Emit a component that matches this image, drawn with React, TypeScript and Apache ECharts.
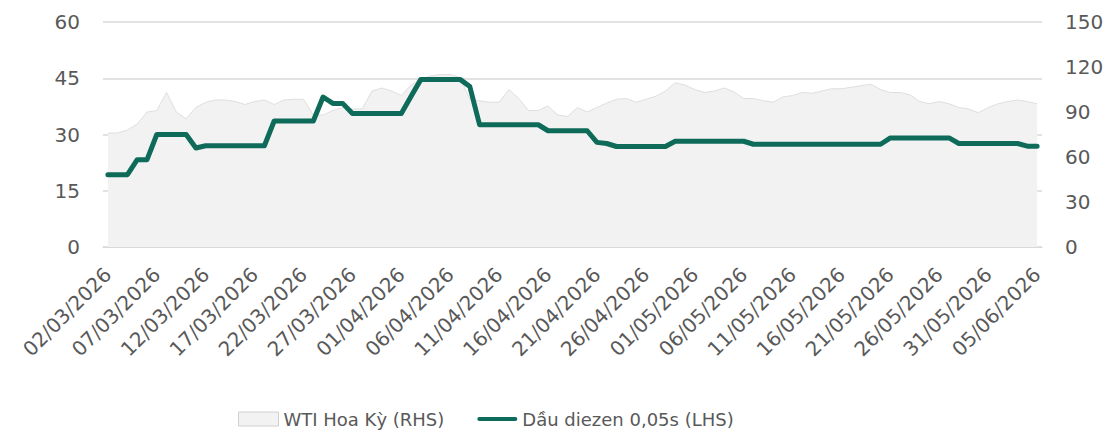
import React, { useEffect, useRef } from "react";
import * as echarts from "echarts";

const dates: string[] = [
  "02/03/2026", "03/03/2026", "04/03/2026", "05/03/2026", "06/03/2026", "07/03/2026", "08/03/2026", "09/03/2026",
  "10/03/2026", "11/03/2026", "12/03/2026", "13/03/2026", "14/03/2026", "15/03/2026", "16/03/2026", "17/03/2026",
  "18/03/2026", "19/03/2026", "20/03/2026", "21/03/2026", "22/03/2026", "23/03/2026", "24/03/2026", "25/03/2026",
  "26/03/2026", "27/03/2026", "28/03/2026", "29/03/2026", "30/03/2026", "31/03/2026", "01/04/2026", "02/04/2026",
  "03/04/2026", "04/04/2026", "05/04/2026", "06/04/2026", "07/04/2026", "08/04/2026", "09/04/2026", "10/04/2026",
  "11/04/2026", "12/04/2026", "13/04/2026", "14/04/2026", "15/04/2026", "16/04/2026", "17/04/2026", "18/04/2026",
  "19/04/2026", "20/04/2026", "21/04/2026", "22/04/2026", "23/04/2026", "24/04/2026", "25/04/2026", "26/04/2026",
  "27/04/2026", "28/04/2026", "29/04/2026", "30/04/2026", "01/05/2026", "02/05/2026", "03/05/2026", "04/05/2026",
  "05/05/2026", "06/05/2026", "07/05/2026", "08/05/2026", "09/05/2026", "10/05/2026", "11/05/2026", "12/05/2026",
  "13/05/2026", "14/05/2026", "15/05/2026", "16/05/2026", "17/05/2026", "18/05/2026", "19/05/2026", "20/05/2026",
  "21/05/2026", "22/05/2026", "23/05/2026", "24/05/2026", "25/05/2026", "26/05/2026", "27/05/2026", "28/05/2026",
  "29/05/2026", "30/05/2026", "31/05/2026", "01/06/2026", "02/06/2026", "03/06/2026", "04/06/2026", "05/06/2026",
];

// WTI Hoa Kỳ (RHS)
const wti: number[] = [
  76, 76, 78, 82, 90, 91, 103, 90, 85.5, 93,
  96.5, 98, 98, 97, 95, 97, 98, 95, 98, 98.5,
  98.5, 88, 88, 91, 93, 92, 92, 104, 106, 104,
  101, 108, 112, 114, 115, 115, 113, 98.5, 97.5, 96.5,
  96.5, 105, 99, 91, 91, 94, 88, 87, 93, 90,
  93, 96, 98.5, 99, 96.5, 98.5, 100.5, 104, 109.5, 108,
  105, 103, 104, 106, 103.5, 99, 99, 97.5, 96.5, 100,
  101, 103, 102.5, 104, 105.5, 105.5, 106.5, 107.5, 108.5, 105,
  103, 103, 101.5, 97, 95.5, 97, 95.5, 93, 92, 89.5,
  93, 95.5, 97, 98, 97, 95.5,
];

// Dầu diezen 0,05s (LHS)
const diesel: number[] = [
  19.3, 19.3, 19.3, 23.3, 23.3, 30, 30, 30, 30, 26.4,
  27, 27, 27, 27, 27, 27, 27, 33.6, 33.6, 33.6,
  33.6, 33.6, 40, 38.3, 38.3, 35.6, 35.6, 35.6, 35.6, 35.6,
  35.6, 40.2, 44.7, 44.7, 44.7, 44.7, 44.7, 42.8, 32.6, 32.6,
  32.6, 32.6, 32.6, 32.6, 32.6, 31, 31, 31, 31, 31,
  27.9, 27.6, 26.8, 26.8, 26.8, 26.8, 26.8, 26.8, 28.2, 28.2,
  28.2, 28.2, 28.2, 28.2, 28.2, 28.2, 27.4, 27.4, 27.4, 27.4,
  27.4, 27.4, 27.4, 27.4, 27.4, 27.4, 27.4, 27.4, 27.4, 27.4,
  29.1, 29.1, 29.1, 29.1, 29.1, 29.1, 29.1, 27.6, 27.6, 27.6,
  27.6, 27.6, 27.6, 27.6, 26.9, 26.9,
];

const FONT = "DejaVu Sans";
const TEXT = "#595959";
const GREEN = "#0e6b5a";

export default function App() {
  const ref = useRef<HTMLDivElement>(null);

  useEffect(() => {
    document.body.style.margin = "0";
    if (!ref.current) return;
    const chart = echarts.init(ref.current, null, { renderer: "svg" });
    chart.setOption({
      animation: false,
      grid: { left: 103, right: 65, top: 22, bottom: 184 },
      legend: {
        left: 233,
        top: 405,
        itemWidth: 40,
        itemHeight: 14,
        itemGap: 33,
        symbolKeepAspect: true,
        textStyle: { fontSize: 18, color: TEXT, fontFamily: FONT },
        data: [
          {
            name: "WTI Hoa Kỳ (RHS)",
            icon: "rect",
            itemStyle: { color: "#f2f2f2", borderColor: "#d0d0d0", borderWidth: 1 },
          },
          {
            name: "Dầu diezen 0,05s (LHS)",
            icon: "path://M2,0H38A2,2,0,0,1,38,4H2A2,2,0,0,1,2,0Z",
            itemStyle: { color: GREEN, borderWidth: 0 },
          },
        ],
      },
      xAxis: {
        type: "category",
        data: dates,
        boundaryGap: true,
        axisLine: { show: true, lineStyle: { color: "#d9d9d9", width: 1 } },
        axisTick: { show: false },
        splitLine: { show: false },
        axisLabel: {
          interval: 4,
          rotate: 45,
          margin: 24,
          fontSize: 20,
          color: TEXT,
          fontFamily: FONT,
        },
      },
      yAxis: [
        {
          type: "value",
          position: "left",
          min: 0,
          max: 60,
          interval: 15,
          axisLine: { show: false },
          axisTick: { show: false },
          splitLine: { show: true, lineStyle: { color: "#d9d9d9", width: 1.5 } },
          axisLabel: { margin: 23, fontSize: 20, color: TEXT, fontFamily: FONT },
        },
        {
          type: "value",
          position: "right",
          min: 0,
          max: 150,
          interval: 30,
          axisLine: { show: false },
          axisTick: { show: false },
          splitLine: { show: false },
          axisLabel: { margin: 23, fontSize: 20, color: TEXT, fontFamily: FONT },
        },
      ],
      series: [
        {
          name: "WTI Hoa Kỳ (RHS)",
          type: "line",
          yAxisIndex: 1,
          data: wti,
          symbol: "none",
          z: 2,
          lineStyle: { color: "#dedede", width: 1 },
          itemStyle: { color: "#f2f2f2" },
          areaStyle: { color: "#f2f2f2", opacity: 1 },
        },
        {
          name: "Dầu diezen 0,05s (LHS)",
          type: "line",
          yAxisIndex: 0,
          data: diesel,
          symbol: "none",
          showSymbol: false,
          z: 3,
          lineStyle: { color: GREEN, width: 5, cap: "round", join: "round" },
          itemStyle: { color: GREEN },
        },
      ],
    });
    return () => chart.dispose();
  }, []);

  return <div ref={ref} style={{ width: 1107, height: 431 }} />;
}
